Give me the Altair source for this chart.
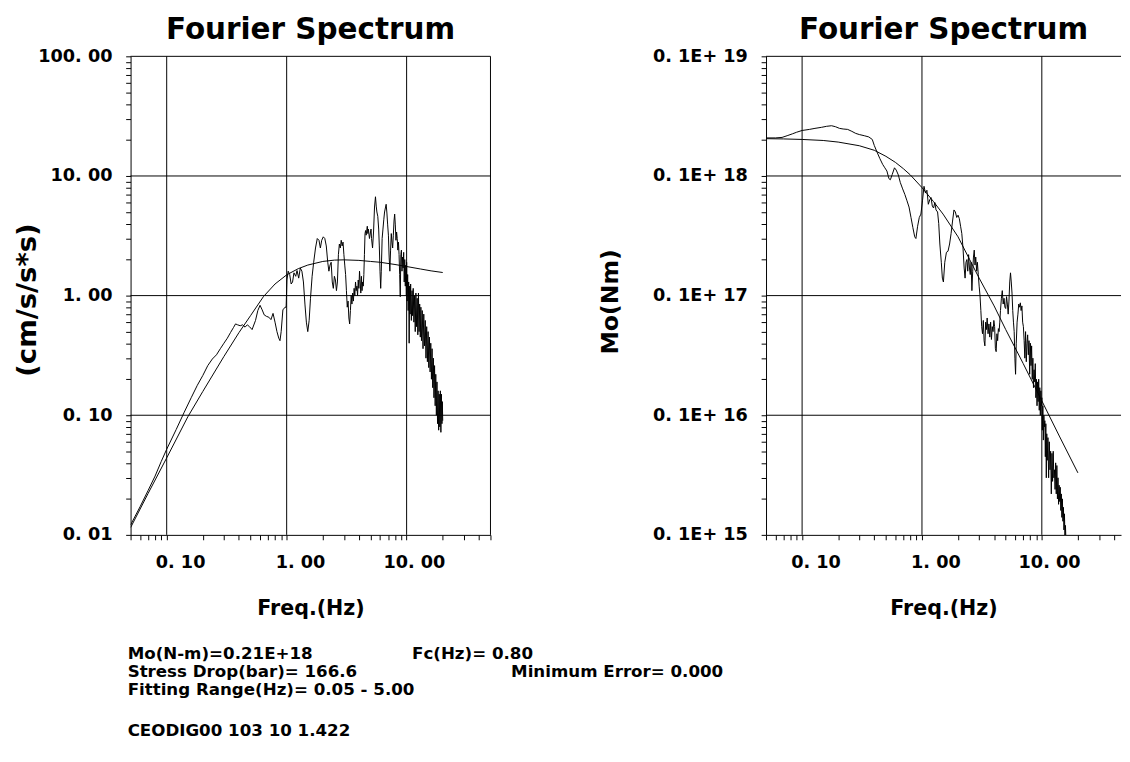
import altair as alt
import pandas as pd

FONT = "DejaVu Sans"

# ---------------- data ----------------
# Left panel: observed acceleration spectrum (freq Hz, amplitude cm/s/s*s)
left_obs = [
    (0.05, 0.0121), (0.06, 0.0172), (0.07, 0.0235), (0.08, 0.031), (0.09, 0.041),
    (0.10, 0.052), (0.12, 0.076), (0.14, 0.106), (0.16, 0.14), (0.18, 0.178),
    (0.20, 0.215), (0.22, 0.26), (0.24, 0.295), (0.26, 0.32), (0.28, 0.36),
    (0.30, 0.40), (0.32, 0.44), (0.34, 0.49), (0.36, 0.54), (0.375, 0.58),
    (0.39, 0.57), (0.41, 0.56), (0.43, 0.57), (0.45, 0.545), (0.47, 0.57),
    (0.49, 0.55), (0.515, 0.52), (0.55, 0.62), (0.575, 0.75), (0.60, 0.83),
    (0.625, 0.76), (0.65, 0.69), (0.68, 0.67), (0.71, 0.66), (0.74, 0.63),
    (0.77, 0.71), (0.80, 0.6), (0.83, 0.5), (0.86, 0.44), (0.88, 0.42),
    (0.90, 0.5), (0.93, 0.76), (0.97, 0.8), (0.99, 0.8), (1.005, 1.35),
    (1.03, 1.6), (1.06, 1.5), (1.09, 1.25), (1.12, 1.3), (1.15, 1.55),
    (1.19, 1.45), (1.22, 1.62), (1.26, 1.4), (1.30, 1.7), (1.34, 1.6),
    (1.38, 1.3), (1.42, 0.85), (1.46, 0.6), (1.50, 0.5), (1.54, 0.62),
    (1.58, 0.95), (1.63, 1.45), (1.68, 1.9), (1.74, 2.5), (1.80, 3.0),
    (1.86, 2.9), (1.91, 2.5), (1.96, 2.9), (2.02, 3.1), (2.08, 3.0),
    (2.14, 2.6), (2.20, 1.9), (2.25, 1.6), (2.30, 1.8), (2.35, 1.9),
    (2.40, 1.3), (2.45, 1.15), (2.50, 1.45), (2.55, 1.35), (2.60, 1.1),
    (2.65, 1.3), (2.70, 2.2), (2.75, 2.7), (2.80, 2.5), (2.85, 2.9),
    (2.90, 2.6), (2.95, 2.8), (3.00, 2.2), (3.05, 1.8), (3.10, 1.5),
    (3.15, 1.1), (3.20, 0.8), (3.25, 0.9), (3.30, 0.65), (3.35, 0.58),
    (3.40, 0.75), (3.45, 1.0), (3.50, 0.85), (3.55, 1.05), (3.60, 0.9),
    (3.65, 1.15), (3.70, 1.0), (3.75, 1.3), (3.80, 1.1), (3.85, 1.2),
    (3.90, 1.0), (3.95, 1.35), (4.00, 1.15), (4.05, 1.6), (4.10, 1.3),
    (4.15, 1.05), (4.20, 1.45), (4.25, 1.1), (4.30, 1.3), (4.35, 1.2),
    (4.40, 1.5), (4.45, 2.2), (4.50, 3.3), (4.55, 3.5), (4.60, 3.2),
    (4.70, 3.8), (4.75, 3.3), (4.80, 3.6), (4.90, 3.0), (5.00, 3.4),
    (5.05, 3.6), (5.10, 3.0), (5.20, 2.5), (5.30, 3.4), (5.40, 5.5),
    (5.50, 6.7), (5.58, 5.6), (5.65, 5.0), (5.75, 4.6), (5.85, 3.6),
    (5.92, 2.6), (6.00, 1.6), (6.08, 1.15), (6.15, 1.6), (6.25, 3.0),
    (6.35, 3.6), (6.45, 4.3), (6.55, 5.0), (6.65, 5.4), (6.75, 5.8),
    (6.85, 4.9), (6.95, 3.9), (7.05, 3.2), (7.15, 2.1), (7.25, 1.6),
    (7.35, 2.4), (7.45, 3.3), (7.55, 2.8), (7.65, 2.5), (7.75, 3.2),
    (7.85, 4.2), (7.95, 4.8), (8.05, 3.9), (8.15, 2.9), (8.25, 3.4),
    (8.35, 3.0), (8.45, 2.4), (8.55, 2.8), (8.65, 2.2), (8.75, 1.5),
    (8.85, 0.98), (8.95, 2.2), (9.05, 2.4), (9.15, 1.6), (9.25, 2.1),
    (9.35, 1.7), (9.45, 2.3), (9.55, 1.3), (9.65, 2.0), (9.75, 1.2),
    (9.85, 1.8), (9.95, 1.0), (10.0, 1.9), (10.1, 0.9), (10.2, 1.5),
    (10.3, 0.75), (10.4, 1.3), (10.5, 0.40), (10.6, 1.2), (10.7, 0.7),
    (10.8, 1.25), (10.95, 0.62), (11.1, 1.1), (11.2, 0.68), (11.35, 1.15),
    (11.5, 0.6), (11.65, 1.0), (11.8, 0.5), (11.95, 1.05), (12.1, 0.55),
    (12.25, 0.95), (12.4, 0.47), (12.55, 1.05), (12.7, 0.5), (12.85, 0.85),
    (13.0, 0.45), (13.15, 0.8), (13.3, 0.42), (13.5, 0.75), (13.7, 0.36),
    (13.9, 0.7), (14.1, 0.38), (14.3, 0.62), (14.5, 0.30), (14.7, 0.55),
    (14.9, 0.28), (15.1, 0.5), (15.3, 0.25), (15.5, 0.45), (15.7, 0.23),
    (15.9, 0.40), (16.1, 0.2), (16.3, 0.36), (16.5, 0.17), (16.7, 0.3),
    (16.9, 0.14), (17.1, 0.26), (17.3, 0.12), (17.5, 0.22), (17.7, 0.1),
    (17.9, 0.19), (18.1, 0.085), (18.3, 0.16), (18.5, 0.075), (18.7, 0.15),
    (18.9, 0.08), (19.1, 0.16), (19.3, 0.072), (19.5, 0.15), (19.7, 0.085),
    (19.85, 0.13), (20.0, 0.09),
]

# Left panel: fitted model spectrum
left_fit = [
    (0.05, 0.0115), (0.07, 0.0222), (0.1, 0.044), (0.15, 0.097), (0.2, 0.158),
    (0.3, 0.31), (0.4, 0.49), (0.5, 0.68), (0.64, 0.98), (0.8, 1.25),
    (1.0, 1.49), (1.25, 1.68), (1.5, 1.8), (2.0, 1.93), (2.5, 1.98),
    (3.0, 1.99), (4.0, 1.97), (5.0, 1.93), (6.0, 1.9), (8.0, 1.82),
    (10.0, 1.75), (13.0, 1.67), (16.0, 1.61), (20.0, 1.56),
]

# Right panel: observed moment spectrum (freq Hz, Mo N m)
right_obs = [
    (0.05, 2.08e17), (0.06, 2.08e17), (0.068, 2.1e17), (0.075, 2.17e17), (0.083, 2.25e17),
    (0.09, 2.32e17), (0.10, 2.4e17), (0.115, 2.45e17), (0.128, 2.5e17), (0.145, 2.55e17),
    (0.16, 2.6e17), (0.176, 2.63e17), (0.19, 2.58e17), (0.205, 2.5e17), (0.22, 2.47e17),
    (0.24, 2.45e17), (0.26, 2.36e17), (0.28, 2.27e17), (0.30, 2.22e17), (0.33, 2.17e17),
    (0.36, 2.12e17), (0.385, 2.02e17), (0.40, 1.8e17), (0.42, 1.6e17), (0.445, 1.4e17),
    (0.47, 1.25e17), (0.49, 1.17e17), (0.51, 1.1e17), (0.53, 0.95e17), (0.545, 0.93e17),
    (0.565, 1.03e17), (0.59, 1.17e17), (0.61, 1.12e17), (0.635, 1.02e17), (0.66, 0.88e17),
    (0.69, 0.78e17), (0.72, 0.7e17), (0.75, 0.62e17), (0.78, 0.55e17), (0.81, 0.45e17),
    (0.84, 0.37e17), (0.87, 0.31e17), (0.89, 0.30e17), (0.92, 0.38e17), (0.95, 0.45e17),
    (0.98, 0.48e17), (1.01, 0.62e17), (1.04, 0.82e17), (1.07, 0.72e17), (1.10, 0.76e17),
    (1.13, 0.58e17), (1.16, 0.63e17), (1.19, 0.66e17), (1.22, 0.56e17), (1.25, 0.54e17),
    (1.28, 0.6e17), (1.31, 0.52e17), (1.35, 0.5e17), (1.38, 0.4e17), (1.41, 0.27e17),
    (1.45, 0.19e17), (1.48, 0.14e17), (1.51, 0.13e17), (1.55, 0.19e17), (1.60, 0.23e17),
    (1.65, 0.235e17), (1.70, 0.27e17), (1.75, 0.33e17), (1.80, 0.42e17), (1.85, 0.52e17),
    (1.90, 0.5e17), (1.95, 0.45e17), (2.00, 0.47e17), (2.05, 0.44e17), (2.10, 0.38e17),
    (2.15, 0.33e17), (2.20, 0.25e17), (2.25, 0.17e17), (2.29, 0.14e17), (2.33, 0.19e17),
    (2.37, 0.2e17), (2.41, 0.16e17), (2.45, 0.22e17), (2.49, 0.17e17), (2.53, 0.15e17),
    (2.57, 0.19e17), (2.61, 0.11e17), (2.65, 0.16e17), (2.69, 0.21e17), (2.73, 0.24e17),
    (2.77, 0.18e17), (2.81, 0.21e17), (2.86, 0.16e17), (2.90, 0.19e17), (2.95, 0.15e17),
    (3.00, 0.12e17), (3.05, 1.0e16), (3.10, 0.75e16), (3.15, 0.55e16), (3.20, 0.48e16),
    (3.25, 0.62e16), (3.30, 0.42e16), (3.35, 0.38e16), (3.40, 0.6e16), (3.45, 0.52e16),
    (3.50, 0.65e16), (3.56, 0.48e16), (3.62, 0.58e16), (3.68, 0.45e16), (3.74, 0.6e16),
    (3.80, 0.43e16), (3.86, 0.55e16), (3.92, 0.5e16), (3.98, 0.62e16), (4.04, 0.55e16),
    (4.10, 0.36e16), (4.16, 0.34e16), (4.22, 0.48e16), (4.28, 0.42e16), (4.34, 0.53e16),
    (4.40, 0.5e16), (4.46, 0.6e16), (4.52, 0.75e16), (4.60, 0.95e16), (4.68, 1.1e16),
    (4.76, 0.85e16), (4.84, 0.95e16), (4.92, 0.8e16), (5.00, 0.78e16), (5.08, 0.98e16),
    (5.16, 0.85e16), (5.24, 0.7e16), (5.32, 0.9e16), (5.40, 1.3e16), (5.48, 1.55e16),
    (5.56, 1.3e16), (5.64, 1.05e16), (5.72, 0.75e16), (5.80, 0.6e16), (5.88, 0.5e16),
    (5.96, 0.3e16), (6.04, 0.22e16), (6.12, 0.4e16), (6.22, 0.6e16), (6.32, 0.7e16),
    (6.42, 0.85e16), (6.52, 0.8e16), (6.62, 0.87e16), (6.72, 0.75e16), (6.82, 0.82e16),
    (6.92, 0.6e16), (7.02, 0.55e16), (7.12, 0.42e16), (7.22, 0.3e16), (7.32, 0.5e16),
    (7.42, 0.28e16), (7.52, 0.4e16), (7.62, 0.47e16), (7.72, 0.32e16), (7.82, 0.42e16),
    (7.92, 0.22e16), (8.02, 0.4e16), (8.12, 0.26e16), (8.22, 0.38e16), (8.32, 0.2e16),
    (8.42, 0.3e16), (8.52, 0.17e16), (8.62, 0.24e16), (8.72, 0.19e16), (8.82, 0.27e16),
    (8.92, 0.14e16), (9.02, 0.2e16), (9.12, 0.12e16), (9.22, 0.19e16), (9.32, 0.13e16),
    (9.42, 0.2e16), (9.52, 0.11e16), (9.62, 0.17e16), (9.72, 0.1e16), (9.82, 0.16e16),
    (9.92, 0.12e16), (10.0, 0.14e16), (10.1, 0.75e15), (10.2, 1.2e15), (10.3, 0.62e15),
    (10.4, 1.0e15), (10.5, 0.8e15), (10.6, 0.9e15), (10.7, 0.45e15), (10.8, 0.85e15),
    (10.9, 0.3e15), (11.0, 0.7e15), (11.1, 0.42e15), (11.25, 0.65e15), (11.4, 0.3e15),
    (11.55, 0.6e15), (11.7, 0.35e15), (11.85, 0.5e15), (12.0, 0.22e15), (12.15, 0.48e15),
    (12.3, 0.28e15), (12.45, 0.5e15), (12.6, 0.3e15), (12.75, 0.35e15), (12.9, 0.24e15),
    (13.05, 0.4e15), (13.2, 0.22e15), (13.35, 0.38e15), (13.5, 0.2e15), (13.65, 0.3e15),
    (13.8, 0.18e15), (13.95, 0.26e15), (14.1, 0.19e15), (14.25, 0.25e15), (14.4, 0.16e15),
    (14.55, 0.22e15), (14.7, 0.14e15), (14.85, 0.2e15), (15.0, 0.13e15), (15.15, 0.17e15),
    (15.3, 0.11e15), (15.45, 0.15e15), (15.6, 0.095e15), (15.75, 0.12e15), (15.9, 0.09e15),
]

# Right panel: fitted Brune-type model
right_fit = [
    (0.05, 2.05e17), (0.07, 2.04e17), (0.1, 2.02e17), (0.15, 1.98e17), (0.2, 1.92e17),
    (0.3, 1.79e17), (0.4, 1.64e17), (0.5, 1.46e17), (0.6, 1.3e17), (0.7, 1.15e17),
    (0.8, 1.02e17), (1.0, 0.80e17), (1.25, 0.61e17), (1.5, 0.48e17), (2.0, 0.31e17),
    (2.5, 0.2e17), (3.0, 1.4e16), (4.0, 0.82e16), (5.0, 5.2e15), (7.0, 2.7e15),
    (10.0, 1.32e15), (14.0, 6.7e14), (20.0, 3.3e14),
]

# Axis ticks, grid lines and labels
left_x_ticks = [0.05, 0.06, 0.07, 0.08, 0.09, 0.1, 0.2, 0.3, 0.4, 0.5, 0.6, 0.7, 0.8, 0.9,
                1, 2, 3, 4, 5, 6, 7, 8, 9, 10, 20, 30, 40, 50]
right_x_ticks = [0.05, 0.06, 0.07, 0.08, 0.09, 0.1, 0.2, 0.3, 0.4, 0.5, 0.6, 0.7, 0.8, 0.9,
                 1, 2, 3, 4, 5, 6, 7, 8, 9, 10, 20, 30, 40]
x_label_values = [0.1, 1, 10]
left_y_ticks = [0.01, 0.02, 0.03, 0.04, 0.05, 0.06, 0.07, 0.08, 0.09,
                0.1, 0.2, 0.3, 0.4, 0.5, 0.6, 0.7, 0.8, 0.9,
                1, 2, 3, 4, 5, 6, 7, 8, 9,
                10, 20, 30, 40, 50, 60, 70, 80, 90, 100]
left_y_label_values = [0.01, 0.1, 1, 10, 100]
right_y_ticks = [1e14, 2e14, 3e14, 4e14, 5e14, 6e14, 7e14, 8e14, 9e14,
                 1e15, 2e15, 3e15, 4e15, 5e15, 6e15, 7e15, 8e15, 9e15,
                 1e16, 2e16, 3e16, 4e16, 5e16, 6e16, 7e16, 8e16, 9e16,
                 1e17, 2e17, 3e17, 4e17, 5e17, 6e17, 7e17, 8e17, 9e17, 1e18]

left_x_rules = [0.1, 1, 10, 50]
left_y_rules = [0.1, 1, 10, 100]
right_x_rules = [0.1, 1, 10]
right_y_rules = [1e15, 1e16, 1e17, 1e18]

# Result block below the plots: (text, x offset, y offset) from the left plot's corner
info_lines = [
    ("Mo(N-m)=0.21E+18\nStress Drop(bar)= 166.6\nFitting Range(Hz)= 0.05 -  5.00", -3, 610),
    ("Fc(Hz)= 0.80", 287, 610),
    ("Minimum Error= 0.000", 388, 628),
    ("CEODIG00 103 10 1.422", -3, 688),
]

# ---------------- chart construction ----------------
def df(pairs):
    return pd.DataFrame({"f": [p[0] for p in pairs], "v": [p[1] for p in pairs]})

LX = alt.Scale(type="log", domain=[0.05, 50])
RX = alt.Scale(type="log", domain=[0.05, 45.8])
LY = alt.Scale(type="log", domain=[0.01, 100])
RY = alt.Scale(type="log", domain=[1e14, 1e18])

common_axis = dict(
    grid=False, tickSize=5, tickColor="black", tickWidth=1,
    domainColor="black", domainWidth=1,
    labelColor="black", labelFont=FONT, labelFontSize=18, labelFontWeight="bold",
    labelFlush=False, labelOverlap=False,
    titleColor="black", titleFont=FONT, titleFontWeight="bold",
)

X_TEST = "indexof(" + str(x_label_values) + ", datum.value) >= 0"


def x_axis(ticks):
    return alt.Axis(
        values=ticks,
        labelExpr=X_TEST + " ? replace(format(datum.value, '.2f'), '.', '. ') : ''",
        labelAlign="right",
        labelOffset={"condition": {"test": X_TEST, "value": 39}, "value": 0},
        labelPadding=14, labelBaseline="top",
        title="Freq.(Hz)", titleFontSize=21, titlePadding=27,
        **common_axis,
    )


left_y_axis = alt.Axis(
    values=left_y_ticks,
    labelExpr="indexof(" + str(left_y_label_values) + ", datum.value) >= 0 ? "
              "replace(format(datum.value, '.2f'), '.', '. ') : ''",
    labelPadding=14, labelAlign="right", labelBaseline="middle",
    title="(cm/s/s*s)", titleFontSize=28, titleX=-105, titleY=248, titleAngle=270,
    titleAlign="center", titleBaseline="middle",
    **common_axis,
)

right_y_axis = alt.Axis(
    values=right_y_ticks,
    labelExpr="indexof([1e14, 1e15, 1e16, 1e17, 1e18], datum.value) >= 0 ? "
              "'0. 1E+ ' + (round(log(datum.value) / LN10) + 1) : ''",
    labelPadding=14, labelAlign="right", labelBaseline="middle",
    title="Mo(Nm)", titleFontSize=24, titleX=-158, titleY=250, titleAngle=270,
    titleAlign="center", titleBaseline="middle",
    **common_axis,
)


def panel_title():
    return alt.TitleParams(
        "Fourier Spectrum", font=FONT, fontSize=30, fontWeight="bold",
        color="black", anchor="middle", frame="group", offset=3,
    )


def rules_x(vals, sx):
    return alt.Chart(pd.DataFrame({"f": vals})).mark_rule(
        color="black", strokeWidth=1).encode(x=alt.X("f:Q", scale=sx))


def rules_y(vals, sy):
    return alt.Chart(pd.DataFrame({"v": vals})).mark_rule(
        color="black", strokeWidth=1).encode(y=alt.Y("v:Q", scale=sy))


def line(pairs, sx, sy, xa=None, ya=None):
    xkw = {"scale": sx}
    ykw = {"scale": sy}
    if xa is not None:
        xkw["axis"] = xa
    if ya is not None:
        ykw["axis"] = ya
    return alt.Chart(df(pairs)).mark_line(
        color="black", strokeWidth=1, clip=True).encode(
        x=alt.X("f:Q", **xkw), y=alt.Y("v:Q", **ykw))


texts = [
    alt.Chart(pd.DataFrame({"t": [t]})).mark_text(
        font=FONT, fontSize=17, fontWeight="bold", color="black",
        align="left", baseline="middle", lineBreak="\n", lineHeight=18,
    ).encode(x=alt.value(px), y=alt.value(py), text="t:N")
    for (t, px, py) in info_lines
]

left = alt.layer(
    rules_x(left_x_rules, LX),
    rules_y(left_y_rules, LY),
    line(left_fit, LX, LY),
    line(left_obs, LX, LY, x_axis(left_x_ticks), left_y_axis),
    *texts,
).properties(width=367, height=488, title=panel_title())

right = alt.layer(
    rules_x(right_x_rules, RX),
    rules_y(right_y_rules, RY),
    line(right_fit, RX, RY),
    line(right_obs, RX, RY, x_axis(right_x_ticks), right_y_axis),
).properties(width=362, height=488, title=panel_title())

chart = alt.hconcat(left, right, spacing=281, bounds="flush").properties(
    padding={"left": 6, "top": 0, "right": 0, "bottom": 0},
    background="white",
).configure_view(strokeWidth=0)

chart.save("out.html", embed_options={"renderer": "svg", "actions": False})
